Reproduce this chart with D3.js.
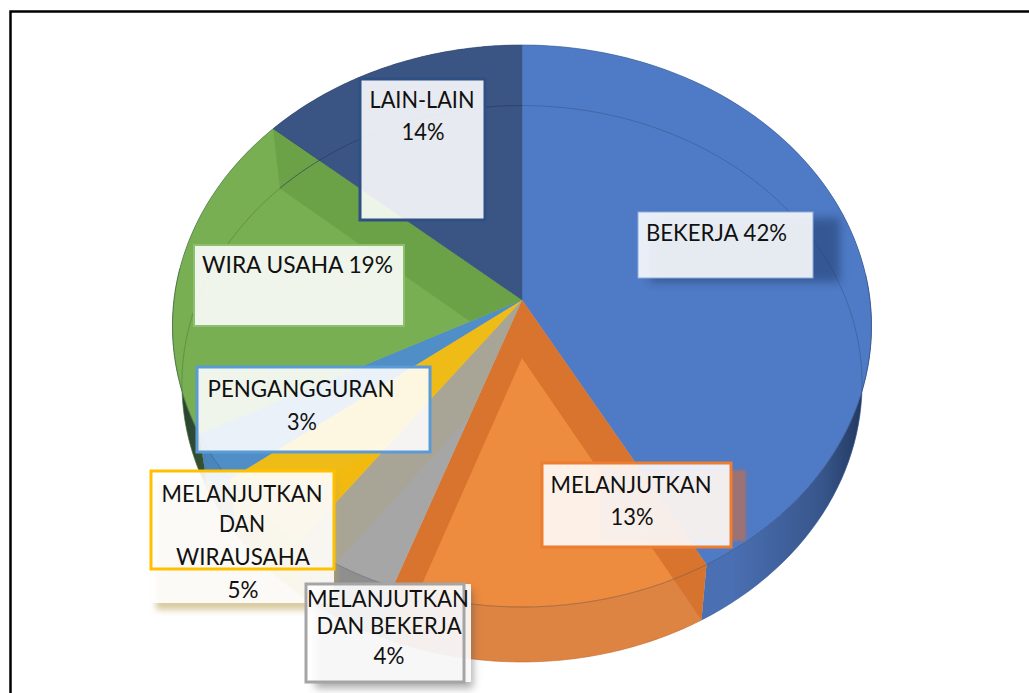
<!DOCTYPE html>
<html><head><meta charset="utf-8">
<script src="https://cdn.jsdelivr.net/npm/d3@7"></script>
<style>html,body{margin:0;padding:0;background:#fff}svg{display:block}text{font-family:Lato,Carlito,Calibri,sans-serif;fill:#111}</style>
</head><body><div id="chart"></div>
<script>
// ---- data ----
const categories = ["BEKERJA","MELANJUTKAN","MELANJUTKAN DAN BEKERJA","MELANJUTKAN DAN WIRAUSAHA","PENGANGGURAN","WIRA USAHA","LAIN-LAIN"];
const values = [41.9,13.6,4.6,4.5,2.8,18.9,13.7];
const topColors = ["#4f7ac5","#ed8b3e","#a6a6a6","#f2b90f","#5b9bd5","#78af53","#3a5483"];
const sideColors = ["#4a6fb2","#de8443","#8f8f8f","#c99a10","#3f78ad","#4a6f35","#2c4066"];
const wallColors = ["#3a5c98","#d4702c","#a8a494","#eebb18","#4f8cc4","#68a045","#2c4066"];
const ringColors = ["#3a5c98","#c8682a","#7f7f7f","#b58c10","#3f78ad","#55803c","#25385c"];
const labelLines = [["BEKERJA 42%"],["MELANJUTKAN","13%"],["MELANJUTKAN","DAN BEKERJA","4%"],["MELANJUTKAN","DAN","WIRAUSAHA","5%"],["PENGANGGURAN","3%"],["WIRA USAHA 19%"],["LAIN-LAIN","14%"]];
const labelBorders = ["#8faadc","#ed7d31","#a5a5a5","#ffc000","#5b9bd5","#8dc06c","#2f5083"];

// ---- layout ----
const W=1029,H=693;
const cx=522,cy=300,A=348,B=278.6,C=-0.0925,depthY=58,shrinkX=0.973,shrinkY=0.99;
const boxes=[
 {x:638,y:212,w:175,h:66,bw:1,shadow:{r:[650,218,190,64],c:"#1f3766",o:.5,b:4.5},anchor:"start",tx:[646],base:[241],tw:[141]},
 {x:542,y:463,w:189,h:84,bw:3,shadow:{r:[600,470,146,71],c:"#b8705a",o:.75,b:1.5},anchor:"middle",tx:[631,632],base:[493,525],tw:[161,43]},
 {x:306,y:584,w:158,h:98,bw:3,extra:[306,584,165,98],shadow:{r:[315,590,158,98],c:"#555",o:.5,b:4},anchor:"middle",tx:[388,389,389],base:[607,634,664],tw:[162,145,31]},
 {x:151,y:471,w:183,h:98,bw:3,extra:[151,471,183,132],shadow:{r:[156,480,180,130],c:"#c0a860",o:.6,b:3},anchor:"middle",tx:[242,242,243,243],base:[502,532,565,598],tw:[161,46,134,31]},
 {x:197,y:367,w:233,h:85,bw:3,anchor:"middle",tx:[301,302],base:[397,430],tw:[187,30]},
 {x:194,y:245,w:210,h:81,bw:2,anchor:"start",tx:[202],base:[273],tw:[191]},
 {x:360,y:79,w:125,h:141,bw:3,anchor:"middle",tx:[422,423],base:[108,140],tw:[105,43]}
];
const fontSize=23.5;

// ---- projection: disc coordinates to the screen ----
function projTop(angle,r){
  const u=Math.sin(angle)*r, v=-Math.cos(angle)*r, d=1+C*v;
  return [cx+A*u/d, cy+B*v/d];
}
function projBottom(angle,r){
  const p=projTop(angle,r);
  return [cx+(p[0]-cx)*shrinkX, cy+depthY+(p[1]-cy)*shrinkY];
}
const lineGen=d3.line().curve(d3.curveLinear);
const arcAngles=(a0,a1)=>d3.range(0,81).map(i=>a0+(a1-a0)*i/80);

const pie=d3.pie().sort(null).value(d=>d)(values);
const svg=d3.select("#chart").append("svg").attr("width",W).attr("height",H);
const defs=svg.append("defs");

// darkening of the outer wall toward the silhouette
const shade=defs.append("linearGradient").attr("id","shade").attr("gradientUnits","userSpaceOnUse")
  .attr("x1",172).attr("x2",872).attr("y1",0).attr("y2",0);
[[0,.62],[.06,.25],[.16,0],[.8,0],[.93,.3],[1,.72]].forEach(s=>shade.append("stop").attr("offset",s[0]).attr("stop-color","#0c1a30").attr("stop-opacity",s[1]));

svg.append("rect").attr("width",W).attr("height",H).attr("fill","#fff");
svg.append("path").attr("d",`M10.5,${H}V11.5H${W}`).attr("fill","none").attr("stroke","#000").attr("stroke-width",2.5);

const sidePath=d=>{
  const as=arcAngles(d.startAngle,d.endAngle);
  return lineGen([...as.map(a=>projTop(a,1)),...as.slice().reverse().map(a=>projBottom(a,1))])+"Z";
};
const frontSidePath=d=>{
  const a0=Math.max(d.startAngle,Math.PI/2), a1=Math.min(d.endAngle,Math.PI*1.5);
  if(a1<=a0) return null;
  return sidePath({startAngle:a0,endAngle:a1});
};
const topPath=d=>{
  const as=arcAngles(d.startAngle,d.endAngle);
  return lineGen([[cx,cy],...as.map(a=>projTop(a,1))])+"Z";
};
const wallPath=angle=>lineGen([[cx,cy],projTop(angle,1),projBottom(angle,1),[cx,cy+depthY]])+"Z";

// outer walls
svg.append("g").selectAll("path").data(pie).join("path").attr("d",sidePath).attr("fill",(d,i)=>sideColors[i]);
svg.append("g").selectAll("path").data(pie).join("path").attr("d",sidePath).attr("fill","url(#shade)");
// top faces
svg.append("g").selectAll("path").data(pie).join("path").attr("d",topPath)
  .attr("fill",(d,i)=>topColors[i]).attr("stroke",(d,i)=>topColors[i]).attr("stroke-width",.4);

// clip per slice: the top face and the part of the outer wall in front
pie.forEach((d,i)=>{
  const c=defs.append("clipPath").attr("id","slice"+i);
  c.append("path").attr("d",topPath(d));
  const f=frontSidePath(d);
  if(f) c.append("path").attr("d",f);
});
// radial walls seen through the translucent slices
pie.forEach((d,i)=>{
  svg.append("path").attr("clip-path",`url(#slice${i})`)
    .attr("d",wallPath(d.startAngle)+wallPath(d.endAngle))
    .attr("fill",wallColors[i]).attr("opacity",.85);
});
// the rim of the lower disc seen through the slices, and the front edge of the top face
pie.forEach((d,i)=>{
  const as=arcAngles(d.startAngle,d.endAngle);
  svg.append("path").attr("d",lineGen(as.map(a=>projBottom(a,1))))
    .attr("fill","none").attr("stroke",ringColors[i]).attr("stroke-width",.8).attr("opacity",.8);
  const front=as.filter(a=>Math.cos(a)<0.12);
  if(front.length) svg.append("path").attr("d",lineGen(front.map(a=>projTop(a,1))))
    .attr("fill","none").attr("stroke",ringColors[i]).attr("stroke-width",.9).attr("opacity",.7);
});
// outline of the back edge
pie.forEach((d,i)=>{
  const as=arcAngles(d.startAngle,d.endAngle);
  svg.append("path").attr("d",lineGen(as.map(a=>projTop(a,1))))
    .attr("fill","none").attr("stroke","#334a66").attr("stroke-width",.6).attr("opacity",.45);
});

// labels
const drawOrder=[0,1,6,5,4,3,2];
drawOrder.forEach(i=>{
  const b=boxes[i];
  const g=svg.append("g");
  if(b.shadow){
    const s=b.shadow, id="blur"+i;
    defs.append("filter").attr("id",id).attr("x","-30%").attr("y","-30%").attr("width","160%").attr("height","160%")
      .append("feGaussianBlur").attr("stdDeviation",s.b);
    g.append("rect").attr("x",s.r[0]).attr("y",s.r[1]).attr("width",s.r[2]).attr("height",s.r[3])
      .attr("fill",s.c).attr("opacity",s.o).attr("filter",`url(#${id})`);
  }
  if(b.extra) g.append("rect").attr("x",b.extra[0]).attr("y",b.extra[1]).attr("width",b.extra[2]).attr("height",b.extra[3])
    .attr("fill","#fff").attr("opacity",.9);
  g.append("rect").attr("x",b.x).attr("y",b.y).attr("width",b.w).attr("height",b.h)
    .attr("fill",b.extra?"none":"#fff").attr("fill-opacity",.88)
    .attr("stroke",labelBorders[i]).attr("stroke-width",b.bw);
  labelLines[i].forEach((t,k)=>{
    g.append("text").attr("x",b.tx[k]).attr("y",b.base[k]).attr("text-anchor",b.anchor)
      .attr("font-size",fontSize).attr("textLength",b.tw[k]).attr("lengthAdjust","spacingAndGlyphs").text(t);
  });
});
</script></body></html>
